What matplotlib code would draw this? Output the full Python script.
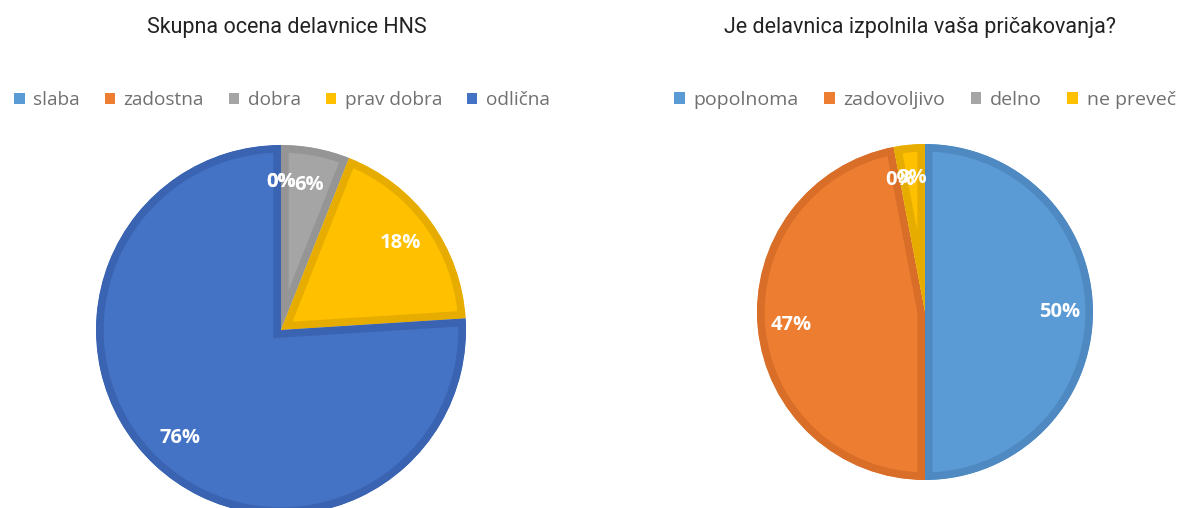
import matplotlib
matplotlib.use("Agg")
import matplotlib.pyplot as plt
from matplotlib.patches import Patch

# --- data ---
ocena_labels = ["slaba", "zadostna", "dobra", "prav dobra", "odlična"]
ocena_values = [0, 0, 6, 18, 76]
ocena_colors = ["#5B9BD5", "#ED7D31", "#A5A5A5", "#FFC000", "#4472C4"]
ocena_edges = ["#5089C0", "#D86E28", "#959595", "#E6AD00", "#3A63B2"]

prick_labels = ["popolnoma", "zadovoljivo", "delno", "ne preveč"]
prick_values = [50, 47, 0, 3]
prick_colors = ["#5B9BD5", "#ED7D31", "#A5A5A5", "#FFC000"]
prick_edges = ["#4F89C1", "#D86E28", "#959595", "#E6AD00"]

W, H = 1189, 508
fig = plt.figure(figsize=(W / 100, H / 100), dpi=100)


def pie_axes(cx, cy, r):
    # square axes in pixel coords (top-left origin) -> figure fractions
    return fig.add_axes([(cx - r) / W, 1 - (cy + r) / H, 2 * r / W, 2 * r / H])


def draw_pie(ax, values, colors, edges):
    wedges, texts, autotexts = ax.pie(
        values, colors=colors, startangle=90, counterclock=False,
        autopct="%1.0f%%", pctdistance=0.8, radius=1,
        wedgeprops=dict(linewidth=11, joinstyle="miter"),
        textprops=dict(color="white", fontsize=14.5, fontweight="bold",
                       family="Open Sans"))
    for w, ec in zip(wedges, edges):
        w.set_edgecolor(ec)
        w.set_clip_on(True)
        w.set_clip_path(w)  # keep the border inside the wedge
    ax.set_xlim(-1, 1)
    ax.set_ylim(-1, 1)
    ax.set_aspect("equal")
    ax.axis("off")
    return autotexts


ax1 = pie_axes(281, 330, 185)
draw_pie(ax1, ocena_values, ocena_colors, ocena_edges)

ax2 = pie_axes(925, 312, 168)
draw_pie(ax2, prick_values, prick_colors, prick_edges)

# titles
fig.text(287 / W, 1 - 28 / H, "Skupna ocena delavnice HNS", ha="center", va="center",
         fontsize=15.5, family="Roboto", color="#222222")
fig.text(920 / W, 1 - 28 / H, "Je delavnica izpolnila vaša pričakovanja?", ha="center",
         va="center", fontsize=15.5, family="Roboto", color="#222222")

# legends
leg_opts = dict(loc="center", frameon=False, handlelength=0.55, handleheight=0.55,
                handletextpad=0.45, labelcolor="#707070", borderpad=0, borderaxespad=0)
h1 = [Patch(facecolor=c, edgecolor="none") for c in ocena_colors]
fig.legend(h1, ocena_labels, bbox_to_anchor=(282 / W, 1 - 100 / H), ncol=5,
           columnspacing=1.3, prop=dict(family="Open Sans", size=13.7), **leg_opts)

h2 = [Patch(facecolor=c, edgecolor="none") for c in prick_colors]
fig.legend(h2, prick_labels, bbox_to_anchor=(925 / W, 1 - 100 / H), ncol=4,
           columnspacing=1.3, prop=dict(family="Open Sans", size=14), **leg_opts)

fig.savefig("out.png", dpi=100, facecolor="white")
